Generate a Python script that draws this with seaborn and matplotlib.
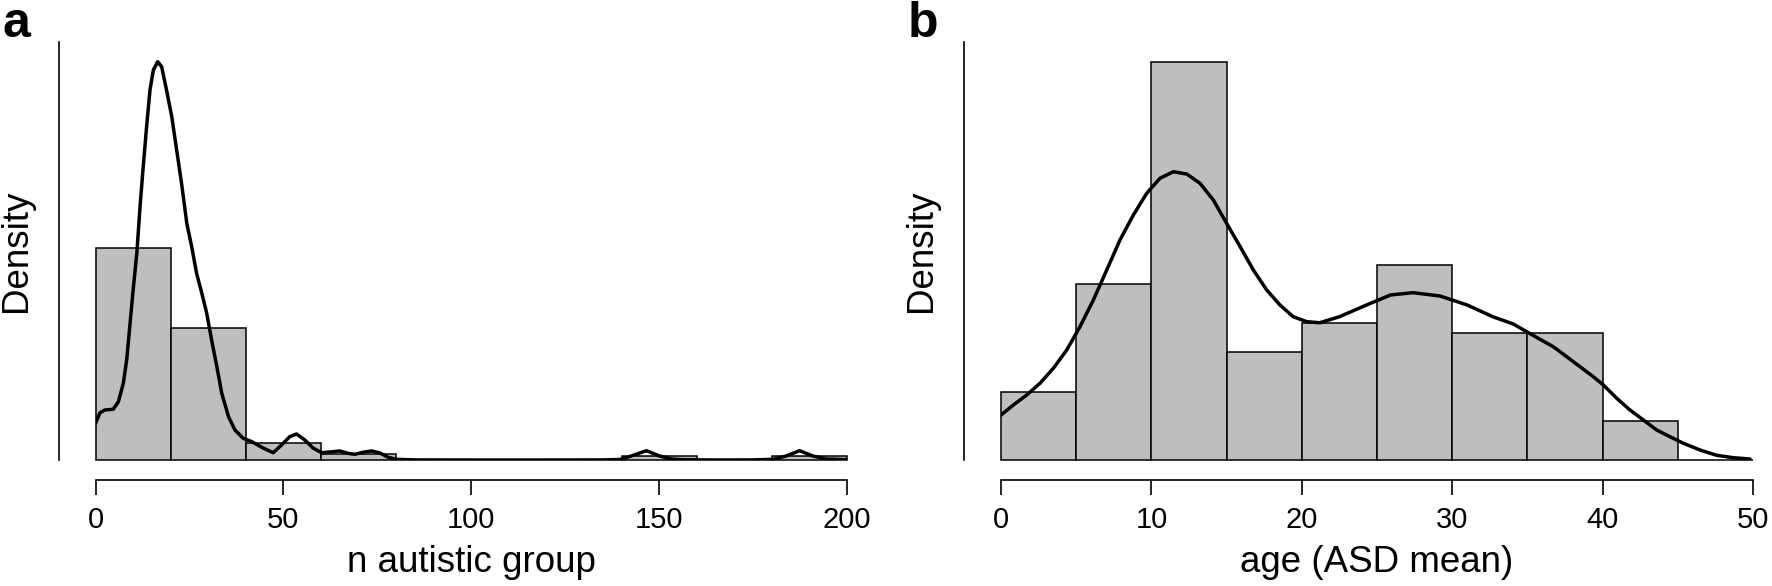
import numpy as np
import pandas as pd
import matplotlib
matplotlib.use('Agg')
import matplotlib.pyplot as plt
import seaborn as sns

# panel a: n autistic group, histogram densities (bin width 20)
n_edges = [0, 20, 40, 60, 80, 100, 120, 140, 160, 180, 200]
n_density = [0.02534, 0.01578, 0.00203, 0.00072, 0.0, 0.0, 0.0, 0.00042, 0.0, 0.00042]
# density curve
n_curve_x = [0.0, 1.2, 2.5, 4.7, 6.1, 7.4, 8.3, 9.2, 10.1, 11.0, 11.85, 12.7,
             13.6, 14.5, 15.4, 16.55, 17.6, 18.9, 20.3, 21.6, 22.9, 24.3, 25.6,
             26.9, 28.3, 29.6, 30.9, 32.3, 33.6, 35.4, 37.1, 39.3, 41.6, 44.6,
             47.3, 49.5, 51.7, 53.5, 55.7, 57.9, 60.2, 63.2, 65.0, 67.2, 69.0,
             71.2, 73.5, 75.7, 77.9, 80.1, 85.0, 100.0, 120.0, 135.0, 139.5,
             142.6, 146.6, 150.1, 153.2, 156.0, 165.0, 175.0, 180.3, 183.8,
             187.4, 190.9, 194.5, 200.0]
n_curve_y = [0.00439, 0.00565, 0.00598, 0.00606, 0.00697, 0.00917, 0.01195,
             0.01634, 0.02071, 0.02471, 0.03028, 0.03506, 0.03984, 0.04423,
             0.04662, 0.04761, 0.04701, 0.04423, 0.04103, 0.03705, 0.03307,
             0.02829, 0.02550, 0.02232, 0.01993, 0.01753, 0.01434, 0.01115,
             0.00797, 0.00518, 0.00359, 0.00259, 0.00219, 0.00143, 0.00087,
             0.00179, 0.00279, 0.00311, 0.00239, 0.00143, 0.00087, 0.00099,
             0.00108, 0.00080, 0.00068, 0.00092, 0.00108, 0.00084, 0.00032,
             0.00008, 0.00001, 0.0, 0.0, 0.00001, 0.00006, 0.00048, 0.00111,
             0.00048, 0.00012, 0.00004, 0.0, 0.00001, 0.00008, 0.00048,
             0.00111, 0.00048, 0.00012, 0.00004]

# panel b: age (ASD mean), histogram densities (bin width 5)
age_edges = [0, 5, 10, 15, 20, 25, 30, 35, 40, 45, 50]
age_density = [0.0098, 0.0252, 0.0571, 0.01545, 0.01965, 0.02793, 0.01817,
               0.01817, 0.00564, 0.0]
age_curve_x = [0.0, 0.82, 1.71, 2.59, 3.48, 4.37, 5.25, 6.14, 7.03, 7.91, 8.8,
               9.69, 10.57, 11.46, 12.35, 13.23, 14.12, 15.0, 15.9, 16.78,
               17.67, 18.55, 19.43, 20.33, 21.2, 22.5, 24.3, 25.9, 27.4, 29.2,
               31.0, 32.7, 34.06, 34.95, 35.84, 36.72, 37.61, 38.5, 39.38,
               40.05, 40.94, 41.82, 42.71, 43.6, 44.48, 45.37, 46.48, 47.59,
               48.69, 49.8]
age_curve_y = [0.00645, 0.00789, 0.00932, 0.01100, 0.01315, 0.01578, 0.01912,
               0.02295, 0.02725, 0.03156, 0.03514, 0.03826, 0.04041, 0.04135,
               0.04102, 0.03969, 0.03729, 0.03395, 0.03060, 0.02725, 0.02438,
               0.02223, 0.02055, 0.01984, 0.01969, 0.02055, 0.02223, 0.02367,
               0.02400, 0.02352, 0.02223, 0.02055, 0.01951, 0.01840, 0.01731,
               0.01625, 0.01482, 0.01338, 0.01195, 0.01076, 0.00885, 0.00717,
               0.00574, 0.00430, 0.00334, 0.00240, 0.00143, 0.00067, 0.00033,
               0.00014]

sns.set_style('white')
plt.rcParams['font.family'] = ['Liberation Sans', 'DejaVu Sans']
plt.rcParams['text.color'] = 'black'
plt.rcParams['axes.labelcolor'] = 'black'
plt.rcParams['xtick.color'] = 'black'

W, H = 1772, 586
fig = plt.figure(figsize=(W / 100, H / 100), dpi=100)


def panel(left_px, right_px, edges, dens, cx, cy, ytop, xticks, xlabel, letter, letter_x):
    ax = fig.add_axes([left_px / W, (H - 460) / H, (right_px - left_px) / W, (460 - 41.7) / H])
    mids = [(edges[i] + edges[i + 1]) / 2 for i in range(len(dens))]
    bars = pd.DataFrame({'x': mids, 'w': dens})
    sns.histplot(data=bars, x='x', weights='w', bins=edges, ax=ax,
                 color='#BEBEBE', edgecolor='black', linewidth=1.1, alpha=1)
    curve = pd.DataFrame({'x': cx, 'y': cy})
    sns.lineplot(data=curve, x='x', y='y', ax=ax, color='black', linewidth=2.5,
                 solid_joinstyle='round', solid_capstyle='round')
    for p in ax.patches:
        p.set_clip_on(False)
    ax.set_xlim(edges[0], edges[-1])
    ax.set_ylim(0, ytop)
    sns.despine(ax=ax)
    ax.spines['left'].set_position(('outward', 26.5))
    ax.spines['bottom'].set_position(('outward', 14.4))
    ax.spines['bottom'].set_bounds(edges[0], edges[-1])
    for s in ['left', 'bottom']:
        ax.spines[s].set_linewidth(1.2)
        ax.spines[s].set_color('black')
    ax.set_xticks(xticks)
    ax.set_yticks([])
    ax.tick_params(axis='x', direction='out', length=10.8, width=1.2, pad=8,
                   labelsize=21, color='black', labelcolor='black', bottom=True)
    ax.set_xlabel(xlabel, fontsize=26.5, labelpad=8)
    ax.set_ylabel('Density', fontsize=26.5, labelpad=18)
    fig.text(letter_x / W, 1 - 37 / H, letter, fontsize=36, fontweight='bold',
             ha='left', va='baseline')
    return ax


panel(95.5, 847, n_edges, n_density, n_curve_x, n_curve_y, 0.05,
      [0, 50, 100, 150, 200], 'n autistic group', 'a', 3)
panel(1001, 1753, age_edges, age_density, age_curve_x, age_curve_y, 0.06,
      [0, 10, 20, 30, 40, 50], 'age (ASD mean)', 'b', 908)

fig.savefig('out.png', dpi=100)
